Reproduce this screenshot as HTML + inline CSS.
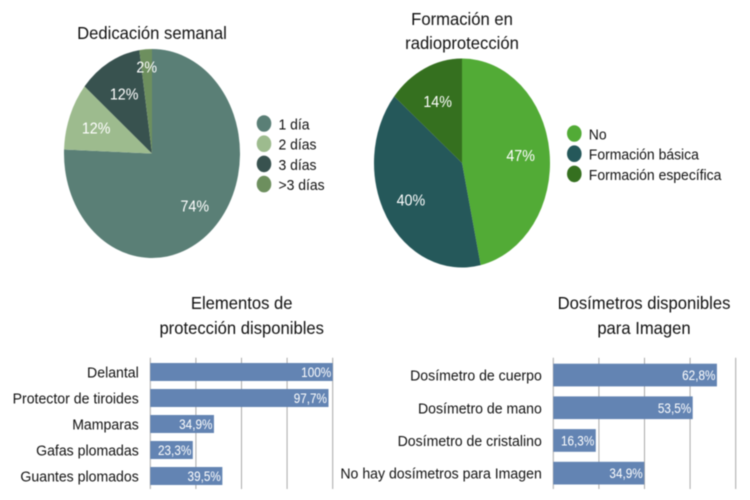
<!DOCTYPE html>
<html lang="es">
<head>
<meta charset="utf-8">
<title>Radioprotección</title>
<style>
html,body{margin:0;padding:0;background:#fff;width:750px;height:500px;overflow:hidden}
svg{display:block;filter:blur(.4px)}
text{font-family:"Liberation Sans",sans-serif;fill:#111}
.title{font-size:17.5px;text-anchor:middle}
.legend,.cat{font-size:15px}
.cat{text-anchor:end}
.pct{font-size:15.5px;fill:#fff;text-anchor:middle}
.val{font-size:13.5px;fill:#fff;text-anchor:end}
</style>
</head>
<body>
<svg id="chart" xmlns="http://www.w3.org/2000/svg" width="750" height="500" viewBox="0 0 750 500">
  <g><text class="title" x="152" y="39">Dedicación semanal</text></g>
  <g><text class="title" x="462" y="25">Formación en</text><text class="title" x="462" y="49">radioprotección</text></g>
  <g><text class="title" x="241.7" y="309">Elementos de</text><text class="title" x="241.7" y="334">protección disponibles</text></g>
  <g><text class="title" x="644" y="309">Dosímetros disponibles</text><text class="title" x="644" y="334">para Imagen</text></g>
</svg>
<script>
const dedicationCategories = ['1 día', '2 días', '3 días', '>3 días'];
const dedicationValues = [75.6, 10.5, 11.6, 2.3];
const dedicationLabels = ['74%', '12%', '12%', '2%'];
const trainingCategories = ['No', 'Formación básica', 'Formación específica'];
const trainingValues = [46.6, 39.4, 14];
const trainingLabels = ['47%', '40%', '14%'];
const protectionCategories = ['Delantal', 'Protector de tiroides', 'Mamparas', 'Gafas plomadas', 'Guantes plomados'];
const protectionValues = [100, 97.7, 34.9, 23.3, 39.5];
const protectionLabels = ['100%', '97,7%', '34,9%', '23,3%', '39,5%'];
const dosimeterCategories = ['Dosímetro de cuerpo', 'Dosímetro de mano', 'Dosímetro de cristalino', 'No hay dosímetros para Imagen'];
const dosimeterValues = [62.8, 53.5, 16.3, 34.9];
const dosimeterLabels = ['62,8%', '53,5%', '16,3%', '34,9%'];
const protectionTicks = [0, 25, 50, 75, 100];
const dosimeterTicks = [0, 17.5, 35, 52.5, 70];

const svg = document.getElementById('chart');
function make(tag, attrs, parent, text) {
  const el = document.createElementNS('http://www.w3.org/2000/svg', tag);
  for (const k in attrs) el.setAttribute(k, attrs[k]);
  if (text !== undefined) el.textContent = text;
  parent.appendChild(el);
  return el;
}

function drawPie(cfg) {
  const group = make('g', {}, svg);
  
  
  const total = cfg.values.reduce((a, b) => a + b, 0);
  const point = (angle, f) => [cfg.cx + cfg.rx * f * Math.sin(angle), cfg.cy - cfg.ry * f * Math.cos(angle)];
  let running = 0;
  cfg.values.forEach((v, i) => {
    const a0 = running / total * 2 * Math.PI;
    running += v;
    const a1 = running / total * 2 * Math.PI;
    const p0 = point(a0, 1), p1 = point(a1, 1);
    const large = a1 - a0 > Math.PI ? 1 : 0;
    const slice = make('path', {
      d: `M${cfg.cx} ${cfg.cy}L${p0[0]} ${p0[1]}A${cfg.rx} ${cfg.ry} 0 ${large} 1 ${p1[0]} ${p1[1]}Z`,
      fill: cfg.colors[i]
    }, group);
    
    
  });
  running = 0;
  cfg.values.forEach((v, i) => {
    const mid = (running + v / 2) / total * 2 * Math.PI;
    running += v;
    const p = point(mid, cfg.labelRadius[i]);
    const label = make('text', {class: 'pct', x: p[0], y: p[1] + 5.5}, group, cfg.labels[i]);
    
    
  });
  cfg.categories.forEach((c, i) => {
    const y = cfg.legendY + i * cfg.legendStep;
    const entry = make('g', {}, group);
    
    
    make('ellipse', {cx: cfg.legendX, cy: y, rx: 7.3, ry: 8.3, fill: cfg.colors[i]}, entry);
    make('text', {class: 'legend', x: cfg.legendX + 14.5, y: y + 6}, entry, c);
  });
}

function drawBars(cfg) {
  const group = make('g', {}, svg);
  
  
  const max = cfg.ticks[cfg.ticks.length - 1];
  const x = v => cfg.x0 + v / max * cfg.width;
  cfg.ticks.forEach(t => {
    const line = make('line', {x1: x(t), x2: x(t), y1: cfg.top, y2: cfg.bottom, stroke: '#a9a9a9', 'stroke-width': 1}, group);
    
    
  });
  cfg.values.forEach((v, i) => {
    const y = cfg.firstBar + i * cfg.step;
    const bar = make('rect', {x: cfg.x0, y: y, width: x(v) - cfg.x0, height: cfg.barHeight, fill: '#6384b3'}, group);
    
    
    const cat = make('text', {class: 'cat', x: cfg.x0 - 11.5, y: y + cfg.barHeight / 2 + 5.5}, group, cfg.categories[i]);
    
    
    const val = make('text', {class: 'val', x: x(v) - 1.5, y: y + cfg.barHeight / 2 + 5}, group, cfg.labels[i]);
    
    
  });
}

drawPie({name: 'dedication-pie', cx: 152, cy: 153.5, rx: 88, ry: 104.5,
  values: dedicationValues, labels: dedicationLabels, categories: dedicationCategories,
  colors: ['#5a7f76', '#9dbb8e', '#38524f', '#6d8f5e'],
  labelRadius: [0.7, 0.68, 0.65, 0.83], legendX: 264, legendY: 123.5, legendStep: 20.2});
drawPie({name: 'training-pie', cx: 462, cy: 163, rx: 88, ry: 104.5,
  values: trainingValues, labels: trainingLabels, categories: trainingCategories,
  colors: ['#52ab36', '#25585a', '#35701f'],
  labelRadius: [0.67, 0.68, 0.65], legendX: 574.3, legendY: 133.5, legendStep: 20.2});
drawBars({name: 'protection-bars', x0: 150.3, width: 182.4, top: 357.7, bottom: 489,
  firstBar: 363, step: 26, barHeight: 18, ticks: protectionTicks,
  values: protectionValues, labels: protectionLabels, categories: protectionCategories});
drawBars({name: 'dosimeter-bars', x0: 553.3, width: 182.4, top: 357.7, bottom: 489,
  firstBar: 363.7, step: 32.7, barHeight: 22.7, ticks: dosimeterTicks,
  values: dosimeterValues, labels: dosimeterLabels, categories: dosimeterCategories});

// The reference typeface is taller and narrower than Liberation Sans: condense each label to fit.
const condense = {title: 0.95, legend: 0.93, cat: 0.94, pct: 0.92, val: 0.87};
svg.querySelectorAll('text').forEach(t => {
  const factor = condense[t.getAttribute('class')];
  t.setAttribute('textLength', t.getComputedTextLength() * factor);
  t.setAttribute('lengthAdjust', 'spacingAndGlyphs');
});
</script>
</body>
</html>
